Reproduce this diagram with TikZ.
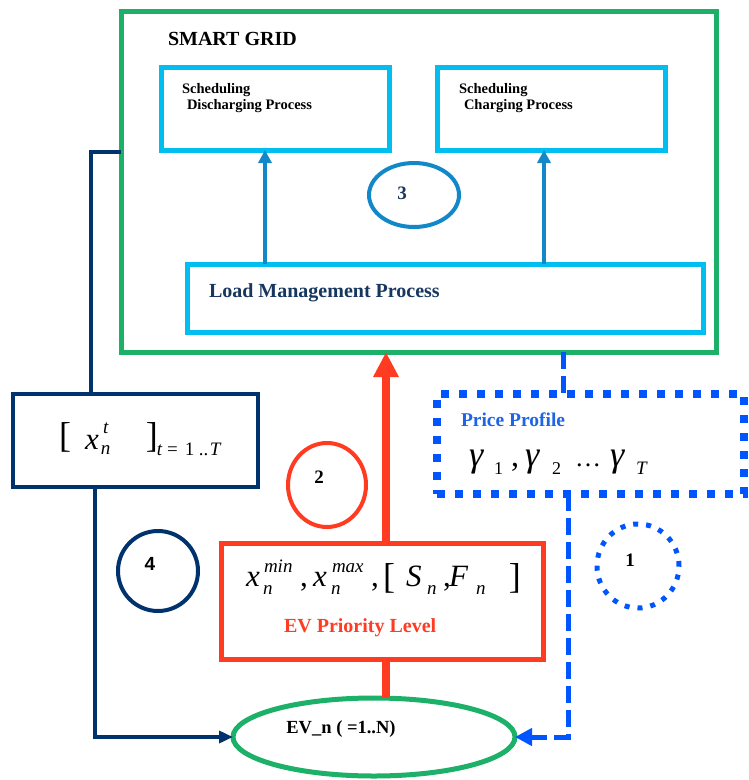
\documentclass[tikz,border=0pt]{standalone}
\usepackage{fontspec}
\setmainfont{Liberation Serif}
\newfontfamily\sansf{Liberation Sans}
\usetikzlibrary{arrows.meta,shapes.geometric}

\definecolor{gridgreen}{HTML}{1DB068}
\definecolor{procyan}{HTML}{00BEF0}
\definecolor{flowblue}{HTML}{1288C9}
\definecolor{navyline}{HTML}{00336E}
\definecolor{navytext}{HTML}{17375E}
\definecolor{evred}{HTML}{FF3B22}
\definecolor{priceblue}{HTML}{0055FF}
\definecolor{pricetext}{HTML}{1E64E6}

\newcommand\fs[1]{\fontsize{#1}{#1}\selectfont}
\newcommand\bx[2]{\makebox[#1][l]{#2}}

\begin{document}
\begin{tikzpicture}[x=1pt,y=-1pt,
  box/.style={draw, rectangle, inner sep=0pt, outer sep=0pt, anchor=north west},
  ring/.style={draw, ellipse, inner sep=0pt, outer sep=0pt},
  txt/.style={anchor=base west, inner sep=0pt, outer sep=0pt},
  navyconn/.style={draw=navyline, line width=3.5pt},
  bluedash/.style={draw=priceblue, line width=5pt, dash pattern=on 17pt off 7pt},
  flowarrow/.style={draw=flowblue, line width=4pt, -{Triangle[width=13pt,length=13pt]}}]
\useasboundingbox (0,0) rectangle (748,780);

% helper coordinates for connector columns
\coordinate (navyA) at (91,152);
\coordinate (navyB) at (95,0);
\coordinate (redcol) at (386,0);
\coordinate (blueA) at (563,0);
\coordinate (blueB) at (568,0);
\coordinate (leftcol) at (265,0);
\coordinate (rightcol) at (544,0);

% smart grid frame and its processes
\node[box, draw=gridgreen, line width=5pt, minimum width=595pt, minimum height=341pt] (grid) at (121,11) {};
\node[txt, font=\fs{20}\bfseries] (gridtitle) at (168,45) {SMART GRID};

\node[box, draw=procyan, line width=5pt, minimum width=228pt, minimum height=83pt] (sdis) at (161,67) {};
\node[box, draw=procyan, line width=5pt, minimum width=228pt, minimum height=83pt] (schg) at (437,67) {};
\node[txt, font=\fs{14.5}\bfseries] (sdistitle) at (182,93) {Scheduling};
\node[txt, font=\fs{14.5}\bfseries] (sdissub) at (187,109) {Discharging Process};
\node[txt, font=\fs{14.5}\bfseries] (schgtitle) at (459,93) {Scheduling};
\node[txt, font=\fs{14.5}\bfseries] (schgsub) at (464,109) {Charging Process};

\node[box, draw=procyan, line width=5pt, minimum width=516pt, minimum height=68pt] (lmp) at (187,264) {};
\node[txt, font=\fs{20}\bfseries, text=navytext] (lmptext) at (209,297) {Load Management Process};

\draw[flowarrow] (lmp.north -| leftcol) -- (sdis.south -| leftcol);
\draw[flowarrow] (lmp.north -| rightcol) -- (schg.south -| rightcol);

\node[ring, draw=flowblue, line width=4pt, minimum width=90pt, minimum height=64pt] (step3) at (414,195) {};
\node[font=\fs{19}\bfseries, text=navytext, inner sep=0pt] (step3lbl) at (402,193) {3};

% decision vector box
\node[box, draw=navyline, line width=4.5pt, minimum width=245pt, minimum height=93pt] (xvec) at (13,394) {};
\node[txt] (xvectext) at (59,447) {%
  \bx{26pt}{\fs{36}[}%
  \bx{16pt}{\raisebox{-2pt}{\fs{31}\itshape x}}%
  \bx{45pt}{\rlap{\hspace{2pt}\raisebox{14pt}{\fs{19}\itshape t}}\raisebox{-7pt}{\fs{19}\itshape n}}%
  \bx{11pt}{\fs{36}]}%
  \raisebox{-8pt}{\fs{19}\bx{10pt}{\itshape t}\bx{18pt}{=}\bx{14pt}{1}\bx{11pt}{..}\itshape T}};

\node[ring, draw=navyline, line width=4pt, minimum width=80pt, minimum height=80pt] (step4) at (158,571) {};
\node[font=\fs{19}\sansf\bfseries, inner sep=0pt] (step4lbl) at (150,564) {4};

% EV constraint box
\node[box, draw=evred, line width=5pt, minimum width=322pt, minimum height=116pt] (evbox) at (221,543) {};
\node[txt] (evmath) at (246,586) {%
  \bx{17pt}{\fs{31}\itshape x}%
  \bx{37pt}{\rlap{\hspace{1pt}\raisebox{14pt}{\fs{19}\itshape min}}\raisebox{-8pt}{\fs{19}\itshape n}}%
  \bx{13pt}{\fs{31},}%
  \bx{18pt}{\fs{31}\itshape x}%
  \bx{40pt}{\rlap{\hspace{1pt}\raisebox{14pt}{\fs{19}\itshape max}}\raisebox{-8pt}{\fs{19}\itshape n}}%
  \bx{12pt}{\fs{31},}%
  \bx{23pt}{\raisebox{-2pt}{\fs{36}[}}%
  \bx{21pt}{\fs{31}\itshape S}%
  \bx{16pt}{\raisebox{-8pt}{\fs{19}\itshape n}}%
  \bx{6pt}{\fs{31},}%
  \bx{27pt}{\fs{31}\itshape F}%
  \bx{33pt}{\raisebox{-8pt}{\fs{19}\itshape n}}%
  \raisebox{-2pt}{\fs{36}]}};
\node[txt, font=\fs{20}\bfseries, text=evred] (evlevel) at (284,632) {EV Priority Level};

\draw[draw=evred, line width=8pt, -{Triangle[width=24pt,length=25pt]}] (evbox.north -| redcol) -- (grid.south -| redcol);

\node[ring, draw=evred, line width=4pt, minimum width=78pt, minimum height=84pt] (step2) at (327,485) {};
\node[font=\fs{19}\bfseries, inner sep=0pt] (step2lbl) at (319,477) {2};

% the electric vehicle
\node[ring, draw=gridgreen, line width=5pt, minimum width=282pt, minimum height=78pt] (ev) at (374,737) {};
\node[font=\fs{18.5}\bfseries, inner sep=0pt] (evlabel) at (341,729) {EV\_n ( =1..N)};
\draw[draw=evred, line width=8pt] (evbox.south -| redcol) -- (ev.north -| redcol);

% schedule feedback from the grid to the vehicle
\draw[navyconn] (grid.west |- navyA) -- (navyA) -- (navyA |- xvec.north);
\draw[navyconn, -{Triangle[width=12pt,length=14pt]}] (xvec.south -| navyB) |- (ev.west);

% price profile
\node[box, draw=priceblue, line width=8pt, dash pattern=on 8pt off 10pt, minimum width=307pt, minimum height=100pt] (price) at (437,394) {};
\node[txt, font=\fs{19.5}\bfseries, text=pricetext] (pricetitle) at (461,426) {Price Profile};
\node[txt] (gammas) at (469,466) {%
  \bx{25pt}{\fs{36}\itshape γ}%
  \bx{17pt}{\raisebox{-8pt}{\fs{18}1}}%
  \bx{14pt}{\fs{32},}%
  \bx{27pt}{\fs{36}\itshape γ}%
  \bx{23pt}{\raisebox{-8pt}{\fs{18}2}}%
  \bx{35pt}{\fs{26}…}%
  \bx{26pt}{\fs{36}\itshape γ}%
  \raisebox{-8pt}{\fs{19}\itshape T}};

\draw[bluedash] (grid.south -| blueA) -- (price.north -| blueA);
\draw[bluedash, -{Triangle[width=17pt,length=17pt]}] (price.south -| blueB) |- (ev.east);

\node[ring, draw=priceblue, line width=5pt, dash pattern=on 5pt off 8pt, minimum width=82pt, minimum height=84pt] (step1) at (638,566) {};
\node[font=\fs{19}\bfseries, inner sep=0pt] (step1lbl) at (630,560) {1};
\end{tikzpicture}
\end{document}
